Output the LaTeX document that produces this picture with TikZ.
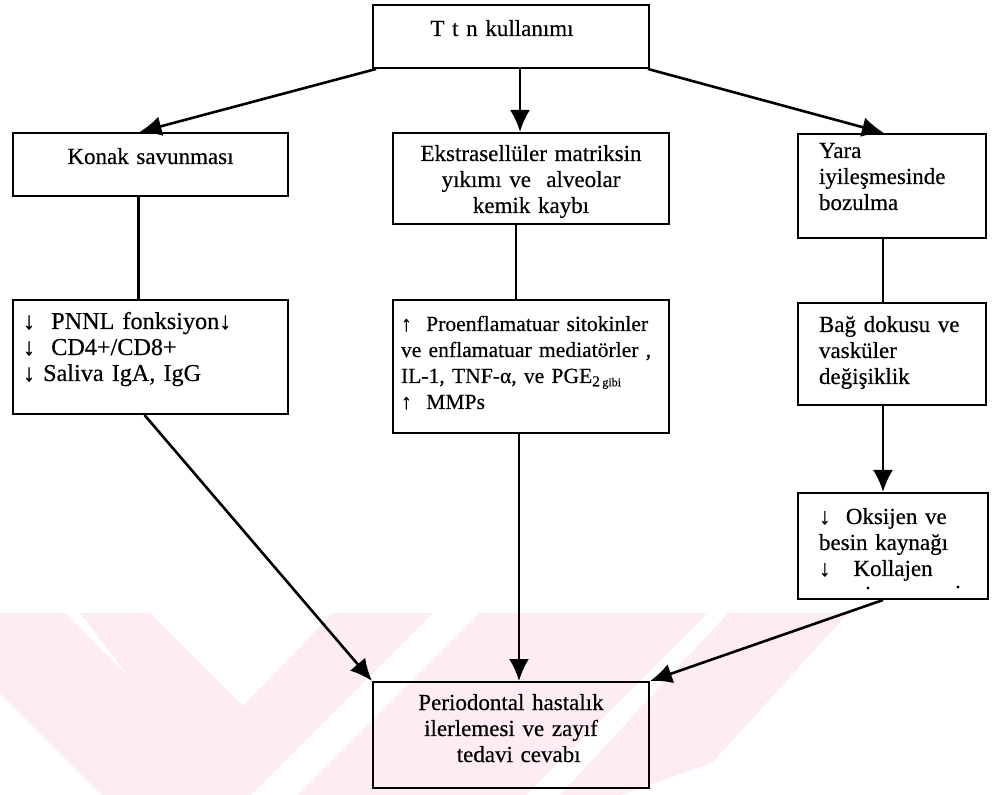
\documentclass[tikz,border=0pt]{standalone}
\usepackage{fontspec}
\setmainfont{Liberation Serif}[BoldFont=Liberation Serif,BoldFeatures={FakeBold=0.45}]
\usetikzlibrary{arrows.meta,calc}
\definecolor{wm}{RGB}{253,237,240}
\hyphenpenalty=10000 \exhyphenpenalty=10000

\begin{document}
\begin{tikzpicture}[x=0.5pt,y=-0.5pt,>={Latex[length=11pt,width=10pt]},
  kutu/.style={draw,line width=1pt,anchor=north west,inner ysep=0pt,inner xsep=5pt,
    font=\fontsize{11.5}{13}\selectfont\bfseries},
  ok/.style={->,line width=1.3pt},
  cizgi/.style={line width=1.1pt}]
  \useasboundingbox (0,0) rectangle (995,795);
  % filigran
  \begin{scope}
  \clip (0,613) rectangle (995,795);
  \fill[wm] (-80,613)--(65,613)--(247,795)--(102,795)--cycle;
  \fill[wm] (80,613)--(150,613)--(243,706)--(333,613)--(433,613)--(233,813)--cycle;
  \fill[wm] (480,613)--(708,613)--(526,795)--(298,795)--cycle;
  \fill[wm] (728,613)--(848,613)--(712,763)--(620,795)--(560,795)--cycle;
  \end{scope}
  % kutular
  \node[kutu,text width=128pt,align=center,text height=15.5pt,text depth=16pt] (ttn) at (372,4)
    {T t n kullanımı\hspace{9pt}\mbox{}};
  \node[kutu,text width=127.5pt,align=center,text height=15.5pt,text depth=16pt] (konak) at (12,132) {Konak savunması};
  \node[kutu,text width=128pt,align=center,text height=14pt,text depth=31.5pt] (ekstra) at (392,132)
    {Ekstrasellüler matriksin\\ yıkımı ve \ alveolar\\ kemik kaybı};
  \node[kutu,inner xsep=10.5pt,text width=73pt,align=left,text height=12pt,text depth=40pt] (yara) at (797,133)
    {Yara\\ iyileşmesinde\\ bozulma};
  \node[kutu,font=\fontsize{12.1}{13}\selectfont\bfseries,text width=127.5pt,align=left,text height=14.5pt,text depth=42.5pt] (pnnl) at (12,299)
    {↓\ \ PNNL fonksiyon↓\\ ↓\ \ CD4+/CD8+\\ ↓ Saliva IgA, IgG};
  \node[kutu,font=\fontsize{10.8}{13}\selectfont\bfseries,inner xsep=4pt,text width=130pt,align=left,text height=15.5pt,text depth=51pt] (proen) at (392,299)
    {↑\ \ Proenflamatuar sitokinler\\ ve enflamatuar mediatörler ,\\
     IL-1, TNF-α, ve PGE\textsubscript{2\,\fontsize{6}{7}\selectfont gibi}\\ ↑\ \ MMPs};
  \node[kutu,inner xsep=10.5pt,text width=73pt,align=left,text height=14.5pt,text depth=36.5pt] (bag) at (797,302)
    {Bağ dokusu ve\\ vasküler\\ değişiklik};
  \node[kutu,inner xsep=10.5pt,text width=74pt,align=left,text height=15.5pt,text depth=37.5pt] (oksijen) at (797,492)
    {↓\ \ Oksijen ve\\ besin kaynağı\\ ↓\ \ \ Kollajen};
  \node[kutu,text width=128pt,align=center,text height=14pt,text depth=39pt] (perio) at (372,681)
    {Periodontal hastalık\\ ilerlemesi ve zayıf\\ \ \ tedavi cevabı};
  \fill (868,588) circle (0.8pt) (958,587) circle (0.8pt);
  % oklar
  \draw[ok] ($(ttn.south west)+(4,0)$) -- ($(konak.north)+(-11,0)$);
  \draw[ok] ($(ttn.south)+(9,0)$) -- ($(ekstra.north)+(-11,0)$);
  \draw[ok] ($(ttn.south east)+(-2,0)$) -- ($(yara.north)+(-8,0)$);
  \draw[cizgi] ($(konak.south)+(-12,0)$) -- ($(pnnl.north)+(-12,0)$);
  \draw[cizgi] ($(ekstra.south)+(-15,0)$) -- ($(proen.north)+(-15,0)$);
  \draw[cizgi] ($(yara.south)+(-9,0)$) -- ($(bag.north)+(-9,0)$);
  \draw[ok] ($(bag.south)+(-9,0)$) -- ($(oksijen.north)+(-10,0)$);
  \draw[ok] ($(pnnl.south)+(-6,0)$) -- (perio.north west);
  \draw[ok] ($(proen.south)+(-12,0)$) -- ($(perio.north)+(8,0)$);
  \draw[ok] ($(oksijen.south)+(-10,0)$) -- (perio.north east);
\end{tikzpicture}
\end{document}
